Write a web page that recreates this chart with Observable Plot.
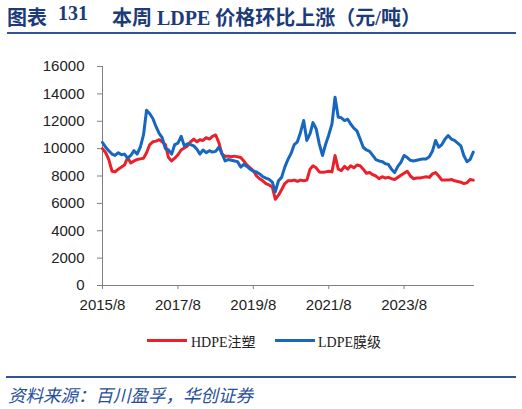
<!DOCTYPE html>
<html><head><meta charset="utf-8">
<script src="https://cdn.jsdelivr.net/npm/d3@7"></script>
<script src="https://cdn.jsdelivr.net/npm/@observablehq/plot@0.6"></script>
<style>
html,body{margin:0;padding:0;background:#fff;}
#wrap{position:relative;width:522px;height:409px;overflow:hidden;background:#fff;}
.t{position:absolute;white-space:pre;}
#title{left:7px;top:2px;font:bold 20px "Liberation Serif","Noto Sans CJK SC",serif;color:#1C3B78;}
#rule1{position:absolute;left:7px;top:32px;width:509px;height:2px;background:#2F5597;}
#rule2{position:absolute;left:6px;top:376px;width:510px;height:2px;background:#2F5597;}
#chart{position:absolute;left:0;top:40px;}
.leg{position:absolute;font:14px "Liberation Serif","Noto Sans CJK SC",serif;color:#222;top:331px;}
.sw{position:absolute;height:3px;top:339px;width:40px;}
#src{left:8px;top:382px;font:italic 17.5px "Noto Sans CJK SC",sans-serif;color:#1F4E9A;}
</style></head>
<body><div id="wrap">
<div id="title" class="t"><span style="position:absolute;left:0">图表</span><span style="position:absolute;left:51px">131</span><span style="position:absolute;left:105px">本周 LDPE 价格环比上涨（元/吨）</span></div>
<div id="rule1"></div>
<div id="chart"></div>
<div class="sw" style="left:147px;background:#E8212B"></div>
<div class="leg" style="left:191px">HDPE注塑</div>
<div class="sw" style="left:275px;background:#1767BF"></div>
<div class="leg" style="left:318px">LDPE膜级</div>
<div id="rule2"></div>
<div id="src" class="t">资料来源：百川盈孚，华创证券</div>
</div>
<script>
const startMonth = new Date(Date.UTC(2015, 7, 1));
const endDate = new Date(Date.UTC(2025, 5, 13));
const seriesNames = ["HDPE注塑", "LDPE膜级"];
const seriesColors = ["#E8212B", "#1767BF"];
const hdpe = [10000,9700,9200,8350,8300,8500,8650,8800,9350,8950,9100,9200,9250,9300,9700,10300,10500,10550,10650,10500,
10300,9350,9100,9300,9550,9900,10050,10200,10500,10700,10500,10650,10600,10800,10700,10900,11000,10450,9600,9450,
9450,9400,9450,9400,9350,9100,8800,8600,8400,8000,7800,7650,7450,7350,7200,6300,6600,7000,7450,7650,
7650,7700,7600,7700,7650,7700,8500,8750,8600,8300,8280,8300,8350,8300,9500,8500,8400,8700,8500,8750,
8600,8800,8750,8500,8200,8250,8100,8000,7800,7950,7850,7900,7800,7750,7900,8050,8200,8350,8000,7800,
7850,7850,7900,7950,7900,8150,8250,8000,7700,7700,7700,7750,7650,7600,7550,7450,7500,7750,7700];
const ldpe = [10450,10100,9850,9600,9500,9700,9550,9600,9300,9500,9850,9600,10100,11000,12800,12550,12200,11600,11100,10800,
10000,9900,9600,10300,10400,10900,10200,10350,10300,10200,9950,9600,9900,9700,9850,9750,9800,10100,9650,9100,
9200,9150,9100,9050,8650,8850,8700,8500,8350,8300,8150,7950,7850,7750,7550,6850,7650,7900,8650,9200,
9650,10300,10500,11200,12050,10600,11100,11900,11450,10350,9500,10300,11000,11800,13750,12300,12250,12050,12150,11800,
11500,11300,10700,10100,9900,9800,9500,9200,9100,9050,8900,8850,8500,8250,8700,9000,9500,9350,9150,9100,
9150,9200,9250,9250,9400,9800,10600,10100,10300,10700,10950,10700,10600,10400,10200,9500,9050,9200,9750];
const yTicks = [0,2000,4000,6000,8000,10000,12000,14000,16000];
const xTickYears = [2015,2017,2019,2021,2023];
const xTicks = xTickYears.map(y => new Date(Date.UTC(y, 7, 1)));

const rows = [];
[hdpe, ldpe].forEach((arr, s) => arr.forEach((v, i) => rows.push({date: d3.utcMonth.offset(startMonth, i), value: v, series: seriesNames[s]})));

const chart = Plot.plot({
  width: 522, height: 280,
  marginLeft: 102, marginRight: 48, marginTop: 26, marginBottom: 35,
  style: {fontFamily: '"Liberation Sans", Arial, sans-serif', fontSize: "15px", color: "#222", background: "transparent"},
  x: {type: "utc", domain: [startMonth, endDate]},
  y: {domain: [0, 16000]},
  color: {domain: seriesNames, range: seriesColors},
  marks: [
    Plot.axisY({ticks: yTicks, tickSize: 5, tickPadding: 13, tickFormat: d => String(d), stroke: "#808080", fill: "#222", label: null}),
    Plot.axisX({ticks: xTicks, tickSize: 4, tickPadding: 10, tickFormat: d => `${d.getUTCFullYear()}/8`, stroke: "#808080", fill: "#222", label: null}),
    Plot.ruleX([startMonth], {y1: 0, y2: 16000, stroke: "#808080"}),
    Plot.ruleY([0], {stroke: "#808080"}),
    Plot.lineY(rows, {x: "date", y: "value", z: "series", stroke: "series", strokeWidth: 3, strokeLinejoin: "round"})
  ]
});
document.getElementById("chart").appendChild(chart);
</script>
</body></html>
